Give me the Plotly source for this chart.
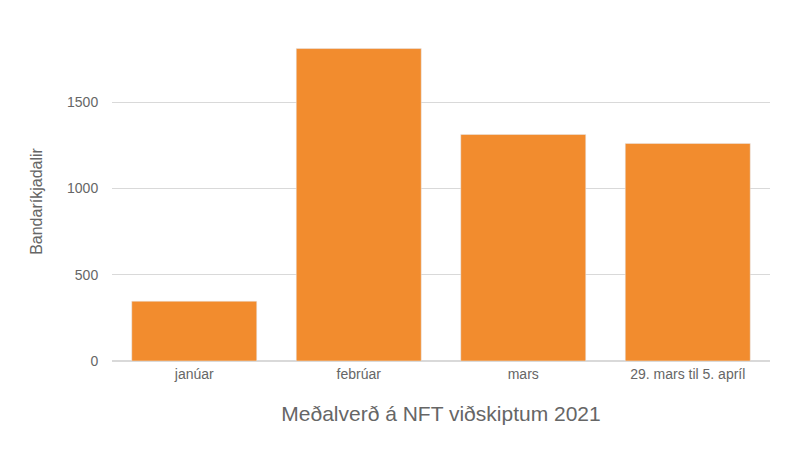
import plotly.graph_objects as go

categories = ["janúar", "febrúar", "mars", "29. mars til 5. apríl"]
values = [347, 1812, 1314, 1262]

fig = go.Figure(go.Bar(x=categories, y=values, marker_color="#f28c2e", width=0.76))
fig.update_layout(
    width=800, height=450,
    margin=dict(l=104, r=38, t=34, b=97, autoexpand=False),
    plot_bgcolor="white", paper_bgcolor="white",
    font=dict(family="Liberation Sans, Arial, sans-serif", color="#666", size=14),
    showlegend=False,
)
fig.update_yaxes(title=dict(text="Bandaríkjadalir", font=dict(size=16), standoff=20),
                 range=[0, 1850], autorange=False, automargin=False,
                 tickvals=[0, 500, 1000, 1500], gridcolor="#d9d9d9", zeroline=True,
                 zerolinecolor="#d9d9d9", ticks="outside", ticklen=10, tickcolor="white")
fig.update_xaxes(title=dict(text="Meðalverð á NFT viðskiptum 2021", font=dict(size=21), standoff=25),
                 automargin=False, showline=True, linecolor="#d9d9d9")
fig.write_html("out.html")
